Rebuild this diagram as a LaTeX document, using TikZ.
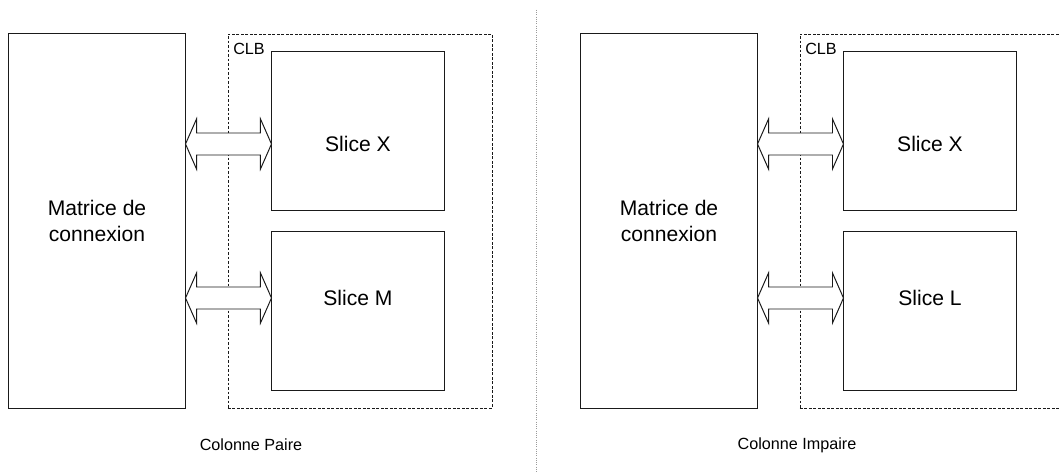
\documentclass[tikz,border=0pt]{standalone}
\usepackage{fontspec}
\setmainfont{Liberation Sans}
\usepackage{tikz}
\usetikzlibrary{calc}
\definecolor{boxgray}{HTML}{1A1A1A}
\definecolor{sepgray}{HTML}{9A9A9A}

%% double arrow between two blocks, #3 = height of its axis
\newcommand{\dblarrow}[3]{%
  \draw[linkarrow] (#1.east |- 0,#3) -- ++(11,-25) -- ++(0,14)
    -- ($(#2.west |- 0,#3)+(-11,-11)$) -- ++(0,-14)
    -- (#2.west |- 0,#3) -- ++(-11,25) -- ++(0,-14)
    -- ($(#1.east |- 0,#3)+(11,11)$) -- ++(0,14) -- cycle;}

\begin{document}
\begin{tikzpicture}[x=0.025cm, y=-0.025cm,
    every node/.style={font=\fontsize{15}{18}\selectfont},
    block/.style={draw=boxgray, line width=0.7pt, align=center},
    matbox/.style={block, minimum width=4.4cm, minimum height=9.35cm},
    slicebox/.style={block, minimum width=4.3cm, minimum height=3.95cm},
    clbbox/.style={draw=boxgray, dash pattern=on 2pt off 1.2pt, line width=0.6pt,
                   minimum width=6.6cm, minimum height=9.35cm},
    caption/.style={font=\fontsize{11.5}{14}\selectfont},
    linkarrow/.style={draw=boxgray, line width=0.7pt, fill=white}]
  \clip (0,0) rectangle (1059,473);

  %% Colonne paire
  \node[clbbox] (clb1) at (360,221) {};
  \node[caption, anchor=base west, inner sep=0pt] (clbtxt1) at (233,55) {CLB};
  \node[matbox] (mat1) at (97,221) {Matrice de\\connexion};
  \node[slicebox] (sx1) at (358,131) {};
  \node[slicebox] (sm1) at (358,311) {};
  \node (sx1txt) at (358,144) {Slice X};
  \node (sm1txt) at (358,298) {Slice M};
  \dblarrow{mat1}{sx1}{144}
  \dblarrow{mat1}{sm1}{298}
  \node[caption] (col1) at (251,445) {Colonne Paire};

  %% separator
  \coordinate (septop) at (536,10);
  \coordinate (sepbot) at (536,473);
  \draw[sepgray, densely dotted, line width=0.6pt] (septop) -- (sepbot);

  %% Colonne impaire
  \node[clbbox] (clb2) at (932,221) {};
  \node[caption, anchor=base west, inner sep=0pt] (clbtxt2) at (805,55) {CLB};
  \node[matbox] (mat2) at (669,221) {Matrice de\\connexion};
  \node[slicebox] (sx2) at (930,131) {};
  \node[slicebox] (sl2) at (930,311) {};
  \node (sx2txt) at (930,144) {Slice X};
  \node (sl2txt) at (930,298) {Slice L};
  \dblarrow{mat2}{sx2}{144}
  \dblarrow{mat2}{sl2}{298}
  \node[caption] (col2) at (797,445) {Colonne Impaire};
\end{tikzpicture}
\end{document}
